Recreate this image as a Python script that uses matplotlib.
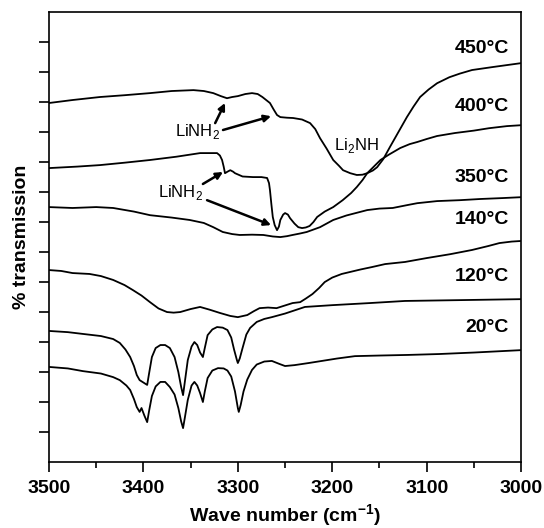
import matplotlib.pyplot as plt
import numpy as np

plt.rcParams["font.family"] = "Liberation Sans"
plt.rcParams["mathtext.fontset"] = "custom"
plt.rcParams["mathtext.rm"] = "Liberation Sans"
plt.rcParams["mathtext.bf"] = "Liberation Sans:bold"

# FTIR spectra, N-H stretching region (wave number in cm-1, offset transmission)
w_450 = [3500, 3475, 3446, 3420, 3393, 3370, 3347, 3336, 3326, 3318, 3311.5, 3306,
         3300, 3292, 3285, 3279, 3274, 3270, 3266, 3262, 3258.5, 3255, 3248, 3241.5,
         3232, 3223.5, 3218, 3213, 3206, 3199, 3193, 3188.6, 3181, 3174, 3168, 3163,
         3157, 3152.5, 3146, 3139, 3130, 3121, 3114, 3107, 3098, 3089, 3076, 3065,
         3052, 3030, 3000]
t_450 = [11.97, 12.07, 12.17, 12.23, 12.3, 12.37, 12.4, 12.37, 12.3, 12.2, 12.13, 12.17,
         12.2, 12.27, 12.3, 12.27, 12.17, 12.07, 11.97, 11.75, 11.57, 11.5, 11.48, 11.47,
         11.42, 11.3, 11.1, 10.8, 10.45, 10.07, 9.88, 9.73, 9.63, 9.57, 9.58, 9.63,
         9.72, 9.83, 10.1, 10.5, 11.0, 11.5, 11.85, 12.17, 12.42, 12.63, 12.83, 12.95,
         13.07, 13.17, 13.3]

w_400 = [3500, 3470, 3446, 3420, 3393, 3365, 3340, 3330, 3322, 3319, 3316.7, 3315,
         3313.6, 3311, 3308, 3305, 3303, 3295, 3284, 3275, 3269, 3267, 3266, 3264.5,
         3263, 3261, 3258.5, 3256.5, 3255, 3252, 3250, 3247, 3244.7, 3240, 3236, 3232,
         3228, 3224, 3220, 3216, 3208, 3199, 3189, 3180, 3174, 3168, 3163, 3156,
         3149, 3140, 3128, 3118, 3110, 3100, 3089, 3070, 3050, 3034, 3015, 3000]
t_400 = [9.8, 9.85, 9.9, 9.98, 10.07, 10.18, 10.3, 10.3, 10.3, 10.22, 10.07, 9.85,
         9.63, 9.68, 9.73, 9.68, 9.63, 9.52, 9.5, 9.5, 9.47, 9.3, 9.07, 8.6,
         8.17, 7.9, 7.73, 7.85, 8.07, 8.25, 8.3, 8.25, 8.13, 7.95, 7.83, 7.8,
         7.82, 7.87, 8.0, 8.17, 8.35, 8.5, 8.73, 8.97, 9.17, 9.4, 9.63, 9.85,
         10.07, 10.25, 10.47, 10.6, 10.67, 10.77, 10.87, 10.97, 11.05, 11.13, 11.2, 11.23]

w_350 = [3500, 3475, 3450, 3432, 3410, 3393, 3370, 3351, 3336, 3326, 3316, 3306,
         3298, 3285, 3273, 3263, 3255, 3248, 3242, 3234, 3227, 3220, 3213, 3206,
         3199, 3185, 3163, 3150, 3136, 3120, 3110, 3089, 3065, 3043, 3020, 3000]
t_350 = [8.5, 8.47, 8.5, 8.47, 8.35, 8.23, 8.15, 8.07, 7.97, 7.83, 7.67, 7.6,
         7.57, 7.58, 7.57, 7.52, 7.5, 7.53, 7.57, 7.62, 7.67, 7.75, 7.83, 7.95,
         8.07, 8.22, 8.4, 8.45, 8.47, 8.57, 8.63, 8.7, 8.73, 8.77, 8.8, 8.83]

w_140 = [3500, 3487, 3475, 3457, 3445, 3432, 3420, 3411, 3402, 3393, 3384, 3375,
         3368, 3361, 3350, 3340, 3330, 3319, 3308, 3300, 3290, 3283, 3277, 3268,
         3259, 3250, 3242, 3234, 3228, 3221, 3214, 3208, 3200, 3190, 3182, 3170,
         3158, 3144, 3123, 3100, 3075, 3052, 3035, 3023, 3010, 3000]
t_140 = [6.4, 6.37, 6.3, 6.27, 6.2, 6.07, 5.9, 5.73, 5.55, 5.33, 5.12, 5.0,
         4.98, 5.0, 5.1, 5.17, 5.08, 4.97, 4.87, 4.83, 4.9, 5.03, 5.13, 5.15,
         5.13, 5.22, 5.3, 5.33, 5.45, 5.6, 5.8, 6.0, 6.15, 6.27, 6.33, 6.42,
         6.5, 6.6, 6.67, 6.8, 6.93, 7.07, 7.2, 7.3, 7.35, 7.37]

w_120 = [3500, 3480, 3464, 3445, 3432, 3425, 3419, 3414, 3410, 3407, 3404, 3400,
         3396, 3394, 3391, 3387, 3382, 3377, 3372, 3367, 3363, 3360, 3358, 3356,
         3353, 3349, 3346, 3343, 3340, 3337, 3335, 3332, 3327, 3322, 3316, 3311,
         3307, 3304, 3301, 3300, 3298, 3295, 3291, 3287, 3280, 3272, 3264, 3250,
         3229, 3200, 3160, 3123, 3060, 3000]
t_120 = [4.37, 4.33, 4.27, 4.2, 4.1, 3.97, 3.75, 3.5, 3.2, 2.9, 2.73, 2.65,
         2.57, 2.95, 3.5, 3.8, 3.9, 3.9, 3.8, 3.5, 3.0, 2.5, 2.23, 2.7,
         3.4, 3.85, 4.0, 3.9, 3.65, 3.5, 3.8, 4.23, 4.42, 4.5, 4.48, 4.4,
         4.15, 3.75, 3.4, 3.3, 3.45, 3.8, 4.25, 4.47, 4.67, 4.77, 4.83, 4.95,
         5.17, 5.23, 5.3, 5.37, 5.4, 5.43]

w_20 = [3500, 3480, 3464, 3445, 3432, 3425, 3418, 3414, 3410, 3407, 3404, 3402,
        3399, 3396, 3394, 3391, 3387, 3382, 3377, 3372, 3367, 3363, 3360, 3358,
        3356, 3353, 3349, 3346, 3343, 3340, 3337, 3335, 3332, 3327, 3321, 3315,
        3311, 3307, 3303, 3300, 3299, 3297, 3294, 3290, 3285, 3280, 3272, 3264,
        3256, 3250, 3240, 3225, 3211, 3195, 3176, 3150, 3120, 3087, 3050, 3000]
t_20 = [3.17, 3.12, 3.03, 2.95, 2.83, 2.73, 2.55, 2.4, 2.1, 1.83, 1.67, 1.8,
        1.55, 1.33, 1.7, 2.2, 2.52, 2.67, 2.67, 2.5, 2.25, 1.8, 1.35, 1.13,
        1.5, 2.07, 2.55, 2.67, 2.55, 2.3, 2.0, 2.35, 2.8, 3.05, 3.13, 3.12,
        3.05, 2.85, 2.35, 1.8, 1.67, 1.9, 2.35, 2.75, 3.07, 3.25, 3.35, 3.37,
        3.27, 3.2, 3.23, 3.3, 3.37, 3.45, 3.53, 3.55, 3.57, 3.6, 3.65, 3.73]

spectra = [(w_450, t_450), (w_400, t_400), (w_350, t_350),
           (w_140, t_140), (w_120, t_120), (w_20, t_20)]
temps = ["450°C", "400°C", "350°C", "140°C", "120°C", "20°C"]
label_y = [13.8, 11.87, 9.47, 8.07, 6.17, 4.47]

fig = plt.figure(figsize=(5.44, 5.28), dpi=100)
ax = fig.add_axes([0.090, 0.125, 0.868, 0.852])

for w, t in spectra:
    ax.plot(w, t, color="black", lw=1.3, solid_joinstyle="round")

for name, y in zip(temps, label_y):
    ax.text(3013, y, name, ha="right", va="center", fontsize=14, fontweight="bold")

# peak assignments
arrow = dict(arrowstyle="-|>", lw=1.8, color="black", mutation_scale=10,
             shrinkA=0, shrinkB=0)
ax.text(3343, 11.03, "LiNH$_2$", ha="center", va="center", fontsize=12)
ax.annotate("", xy=(3313.6, 11.97), xytext=(3324, 11.3), arrowprops=arrow)
ax.annotate("", xy=(3264.8, 11.53), xytext=(3315.7, 11.07), arrowprops=arrow)

ax.text(3361, 8.97, "LiNH$_2$", ha="center", va="center", fontsize=12)
ax.annotate("", xy=(3315.7, 9.67), xytext=(3337, 9.27), arrowprops=arrow)
ax.annotate("", xy=(3264.8, 7.9), xytext=(3332.6, 8.73), arrowprops=arrow)

ax.text(3174, 10.57, "Li$_2$NH", ha="center", va="center", fontsize=12)

ax.set_xlim(3500, 3000)
ax.set_ylim(0, 15)
ax.set_xticks(np.arange(3500, 2999, -100))
ax.set_xticks(np.arange(3450, 3000, -100), minor=True)
ax.set_yticks(np.arange(1, 15))
ax.set_yticklabels([])
ax.tick_params(axis="x", which="major", direction="out", length=7, width=1.2,
               labelsize=14, pad=6)
ax.tick_params(axis="x", which="minor", direction="out", length=4, width=1.2)
ax.tick_params(axis="y", direction="out", length=7, width=1.2)
for lab in ax.get_xticklabels():
    lab.set_fontweight("bold")
for sp in ax.spines.values():
    sp.set_linewidth(1.2)

ax.set_xlabel("Wave number (cm$^{\\mathbf{-1}}$)", fontsize=14, fontweight="bold", labelpad=4)
ax.set_ylabel("% transmission", fontsize=14, fontweight="bold", labelpad=3)

fig.savefig("out.png", dpi=100)
